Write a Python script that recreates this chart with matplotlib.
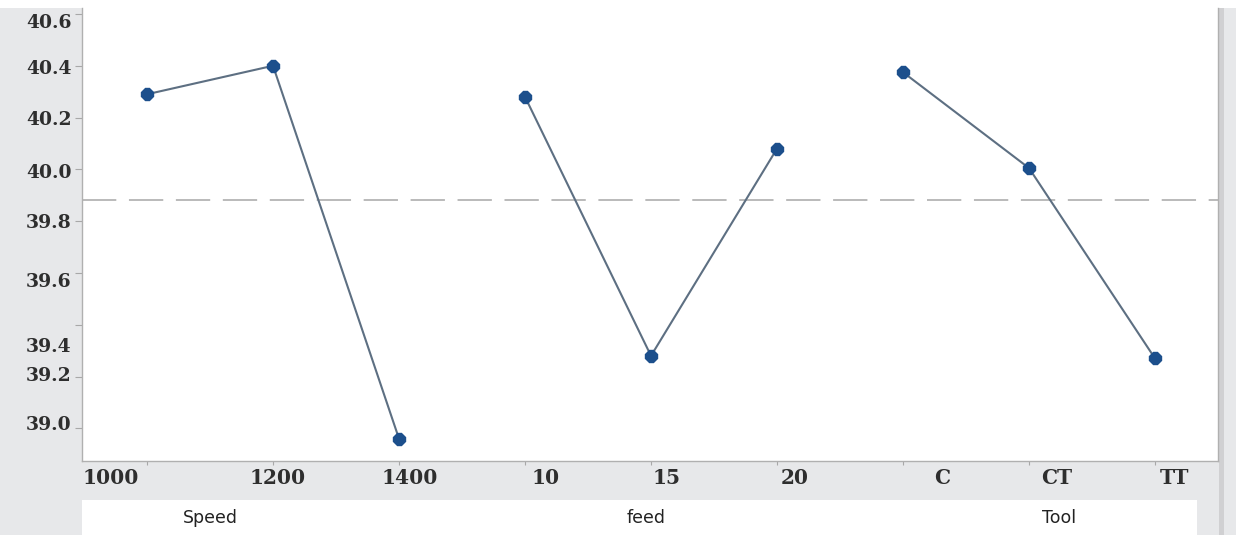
import numpy as np
import matplotlib
matplotlib.use("Agg")
import matplotlib.pyplot as plt
from matplotlib.transforms import ScaledTranslation
from matplotlib.patches import Rectangle

# ---- data ----
factors = ["Speed", "feed", "Tool"]
speed_levels = ["1000", "1200", "1400"]
feed_levels = ["10", "15", "20"]
tool_levels = ["C", "CT", "TT"]
speed_means = [40.29, 40.40, 38.96]
feed_means = [40.28, 39.28, 40.08]
tool_means = [40.375, 40.005, 39.27]
y_ticks = [39.0, 39.2, 39.4, 39.6, 39.8, 40.0, 40.2, 40.4, 40.6]
y_tick_labels = ["39.0", "39.2", "39.4", "39.6", "39.8", "40.0", "40.2", "40.4", "40.6"]

W, H, DPI = 1236, 535, 100
fig = plt.figure(figsize=(W / DPI, H / DPI), dpi=DPI, facecolor="white")

# grey panel background
fig.add_artist(Rectangle((0, 0), 1, (H - 8) / H, transform=fig.transFigure,
                         facecolor="#e7e8ea", edgecolor="none", zorder=0))
# white box for factor names
fig.add_artist(Rectangle((82 / W, 0), (1197 - 82) / W, 35 / H, transform=fig.transFigure,
                         facecolor="white", edgecolor="none", zorder=0))
# right border band
fig.add_artist(Rectangle((1219 / W, 0), 5 / W, (H - 8) / H, transform=fig.transFigure,
                         facecolor="#d0d0d2", edgecolor="none", zorder=0))

ax = fig.add_axes([82 / W, (535 - 461) / H, 1136 / W, 453 / H])
ax.set_facecolor("white")

groups = [speed_means, feed_means, tool_means]
levels = speed_levels + feed_levels + tool_levels
pos = 0
for g in groups:
    x = np.arange(pos, pos + len(g))
    ax.plot(x, g, color="#5d6f82", lw=1.5, zorder=3,
            marker="8", markersize=9, markerfacecolor="#1c4f8c",
            markeredgecolor="#1c4f8c")
    pos += len(g)

grand_mean = np.mean(speed_means + feed_means + tool_means)
ax.axhline(grand_mean, color="#b4b4b4", lw=1.3, linestyle=(0, (19, 7)), zorder=2)

ax.set_xlim(-0.516, 8.5)
ax.set_ylim(38.874, 40.623)

ax.set_xticks(np.arange(len(levels)))
ax.set_xticklabels(levels)
ax.set_yticks(y_ticks)
ax.set_yticklabels(y_tick_labels)

ax.tick_params(axis="y", length=5, width=0.8, color="#a8a8a8", pad=2.5)
ax.tick_params(axis="x", length=3, width=0.8, color="#a8a8a8", pad=2)

for lab in ax.get_yticklabels():
    lab.set_fontfamily("DejaVu Serif")
    lab.set_fontweight("bold")
    lab.set_fontsize(13.5)
    lab.set_color("#2e2e2e")
for lab in ax.get_xticklabels():
    lab.set_fontfamily("DejaVu Serif")
    lab.set_fontweight("bold")
    lab.set_fontsize(14.5)
    lab.set_color("#2e2e2e")

# label placement offsets (pixels) as in the reference
y_off = [-5, -2.5, 20, 7, 0, 1.5, 0, 1, 7]   # downward positive, bottom->top order
for lab, d in zip(ax.get_yticklabels(), y_off):
    lab.set_transform(lab.get_transform() + ScaledTranslation(0, -d / DPI, fig.dpi_scale_trans))
x_off = [-36, 5, 11, 21, 16, 18, 39, 28, 19]
for lab, d in zip(ax.get_xticklabels(), x_off):
    lab.set_transform(lab.get_transform() + ScaledTranslation(d / DPI, 0, fig.dpi_scale_trans))

for s in ax.spines.values():
    s.set_color("#b0b0b0")
    s.set_linewidth(1.0)
ax.spines["top"].set_visible(False)

# factor names in the white box
name_x = [210, 646, 1059]
for name, xp in zip(factors, name_x):
    fig.text(xp / W, (535 - 518) / H, name, ha="center", va="center",
             fontsize=12.5, family="DejaVu Sans", color="#222222")

fig.savefig("out.png", dpi=DPI, facecolor=fig.get_facecolor())
